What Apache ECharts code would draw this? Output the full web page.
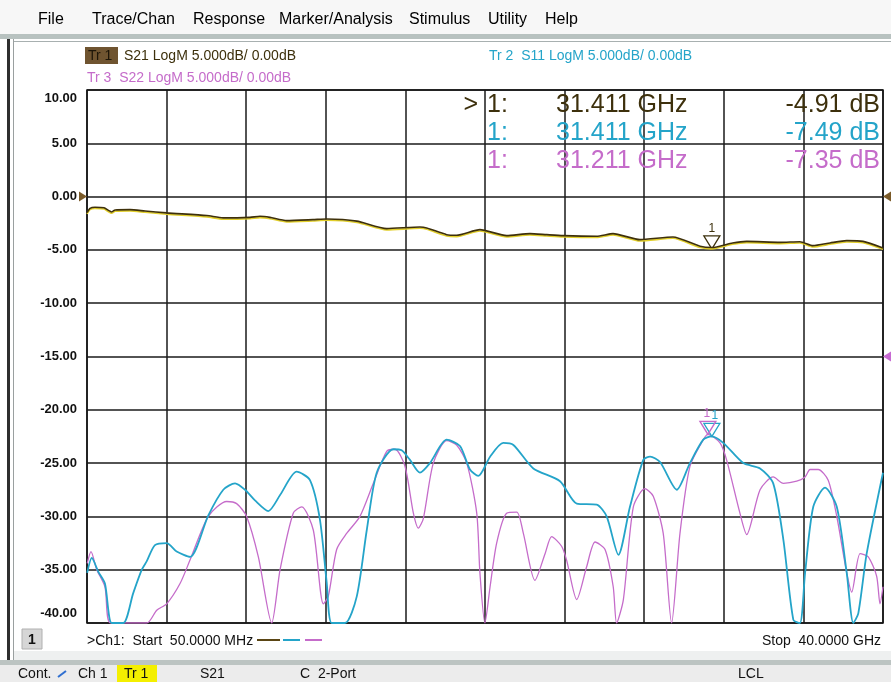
<!DOCTYPE html>
<html><head><meta charset="utf-8">
<script src="https://cdn.jsdelivr.net/npm/echarts@6/dist/echarts.min.js"></script>
<style>html,body{margin:0;padding:0;background:#fff}#c{width:891px;height:682px}</style>
</head><body><div id="c"></div>
<script>
// ---------- data (frequency in GHz, magnitude in dB) ----------
const s21Freq = [0.05,0.2,0.45,0.9,1.29,1.46,2.21,2.96,4.05,6.06,6.88,8.23,8.73,9.23,10.07,11.39,12.08,13.59,15.09,16.76,17.1,18.1,18.6,19.77,21.11,22.28,23.12,23.94,25.63,26.45,27.8,29.46,30.82,31.41,32.45,33.16,34.83,35.83,36.49,37.34,38.18,39.0,40.0];
const s21Val  = [-1.5,-1.1,-1.0,-1.05,-1.44,-1.25,-1.22,-1.35,-1.53,-1.78,-2.0,-1.95,-1.85,-1.95,-2.25,-2.16,-2.1,-2.3,-3.0,-2.85,-2.94,-3.57,-3.63,-3.1,-3.66,-3.47,-3.57,-3.66,-3.72,-3.47,-4.04,-3.79,-4.66,-4.78,-4.35,-4.2,-4.29,-4.23,-4.6,-4.35,-4.13,-4.2,-4.82];

const s11Freq = [0.06,0.29,0.62,0.95,1.29,1.87,2.37,2.80,3.05,3.46,4.05,4.55,5.22,6.14,6.89,7.48,7.98,8.48,9.15,9.74,10.57,11.24,11.74,12.08,12.33,13.0,13.59,14.09,14.59,15.42,15.84,16.26,16.76,17.26,18.1,18.77,19.27,19.69,20.28,20.94,21.45,22.45,23.79,24.63,25.63,26.13,26.72,27.3,27.97,28.31,28.81,29.65,30.31,30.98,31.40,31.98,32.99,33.83,34.49,35.0,35.5,35.83,36.09,36.5,37.09,37.68,38.18,38.51,38.76,39.18,40.0];
const s11Val  = [-35.3,-33.9,-35.2,-36.3,-40,-40,-37.2,-35.0,-34.2,-32.7,-32.5,-33.3,-33.8,-29.9,-27.5,-26.9,-27.5,-28.5,-29.5,-28.0,-25.8,-26.6,-30.3,-36.2,-40,-40,-37.5,-31.3,-25.9,-23.7,-23.8,-24.7,-25.9,-25.0,-22.8,-23.4,-25.6,-26.2,-24.4,-23.1,-23.3,-25.5,-26.7,-28.8,-28.9,-30.0,-33.6,-29.1,-24.7,-24.4,-24.9,-27.5,-25.0,-22.8,-22.5,-23.1,-25.0,-25.5,-26.9,-32.2,-39.7,-40,-35.3,-29.1,-27.3,-29.1,-35.3,-40,-39.1,-33.5,-25.9];

const s22Freq = [0.06,0.25,0.54,0.95,1.24,3.05,3.55,4.05,4.72,5.22,6.14,7.06,7.56,8.06,8.65,9.32,9.74,10.4,10.83,11.41,11.91,12.16,12.58,13.08,13.75,14.42,15.09,15.51,16.01,16.43,16.68,16.93,17.43,18.1,18.6,19.11,19.61,19.77,20.02,20.28,20.61,21.11,21.62,21.95,22.53,23.04,23.37,23.87,24.12,24.63,25.13,25.55,26.05,26.46,26.63,26.97,27.47,28.05,28.47,28.97,29.39,29.81,30.31,30.98,31.21,31.82,32.15,32.82,33.16,33.83,34.49,35.0,35.67,36.09,36.34,36.75,37.25,37.68,38.18,38.43,38.85,39.26,39.68,39.85,40.0];
const s22Val  = [-34.4,-33.3,-35.0,-36.6,-40,-40,-38.8,-38.2,-36.3,-34.1,-30.0,-28.6,-28.8,-30.0,-33.8,-40,-35.0,-29.7,-29.1,-31.3,-38.2,-37.5,-33.1,-31.6,-30.0,-26.9,-23.9,-23.7,-25.3,-29.7,-31.1,-30.2,-25.0,-22.9,-23.3,-25.0,-29.7,-35.3,-40,-36.6,-32.5,-29.7,-29.6,-31.6,-36.0,-33.5,-31.9,-32.8,-34.1,-37.8,-34.7,-32.4,-33.1,-36.6,-40,-37.8,-29.1,-27.4,-28.1,-31.6,-40,-31.6,-25.3,-22.8,-22.3,-23.1,-24.7,-29.7,-31.7,-27.5,-26.3,-26.9,-26.7,-26.3,-25.6,-25.6,-26.6,-30.0,-35.3,-37.1,-33.5,-33.8,-35.6,-38.2,-36.6];

// markers: [S21, S11, S22]
const markerFreq = [31.411, 31.411, 31.211];
const markerTraceVal = [-4.91, -22.5, -22.3];
const markerFreqText = ['31.411 GHz', '31.411 GHz', '31.211 GHz'];
const markerReadout = ['-4.91 dB', '-7.49 dB', '-7.35 dB'];

// reference levels (dB) of the traces
const refLevelS21 = 0;
const refLevelS22 = -15;

// axis
const yMin = -40, yMax = 10, yStep = 5;
const fStart = 0.05, fStop = 40;
const xDivisions = 10;

const traceLabels = ['S21 LogM 5.000dB/ 0.00dB', 'Tr 2  S11 LogM 5.000dB/ 0.00dB', 'Tr 3  S22 LogM 5.000dB/ 0.00dB'];
const menuItems = [['File',38],['Trace/Chan',92],['Response',193],['Marker/Analysis',279],['Stimulus',409],['Utility',488],['Help',545]];

// ---------- styling ----------
const FONT = 'Liberation Sans, Arial, Helvetica, sans-serif';
const C21 = '#3d300c', C11 = '#24a4c9', C22 = '#c56cca';
const zip = (a, b) => a.map((v, i) => [v, b[i]]);

const chart = echarts.init(document.getElementById('c'), null, {renderer: 'canvas'});

function txt(x, y, text, color, size, align, weight) {
  return {type: 'text', x: x, y: y, silent: true, z: 50,
    style: {text: text, fill: color, font: (weight ? weight + ' ' : '') + size + 'px ' + FONT,
      textVerticalAlign: 'middle', textAlign: align || 'left'}};
}

const graphics = [
  // menu bar
  {type: 'rect', shape: {x: 0, y: 0, width: 891, height: 34}, style: {fill: '#f7f7f7'}, z: 1},
  {type: 'rect', shape: {x: 0, y: 34, width: 891, height: 5}, style: {fill: '#b8c2c0'}, z: 1},
  // left frame lines
  {type: 'rect', shape: {x: 7, y: 39, width: 3, height: 622}, style: {fill: '#2e2e2e'}, z: 1},
  {type: 'rect', shape: {x: 13, y: 39, width: 1, height: 622}, style: {fill: '#9aa0a0'}, z: 1},
  {type: 'rect', shape: {x: 14, y: 41, width: 877, height: 1}, style: {fill: '#a8b0b0'}, z: 1},
  // bottom separator + status bar
  {type: 'rect', shape: {x: 14, y: 651, width: 877, height: 9}, style: {fill: '#eef0f0'}, z: 1},
  {type: 'rect', shape: {x: 0, y: 660, width: 891, height: 5}, style: {fill: '#bcc4c2'}, z: 1},
  {type: 'rect', shape: {x: 0, y: 665, width: 891, height: 17}, style: {fill: '#ececec'}, z: 1},
  // Tr 1 box
  {type: 'rect', shape: {x: 85, y: 47, width: 33, height: 17}, style: {fill: '#6f5430'}, z: 40},
  txt(88, 56, 'Tr 1', '#1e1608', 14),
  txt(124, 56, traceLabels[0], C21, 14),
  txt(489, 56, traceLabels[1], C11, 14),
  txt(87, 78, traceLabels[2], C22, 14),
  // marker readout
  txt(478, 105, '>', C21, 25, 'right'),
  txt(487, 105, '1:', C21, 25), txt(556, 105, markerFreqText[0], C21, 25), txt(880, 105, markerReadout[0], C21, 25, 'right'),
  txt(487, 133, '1:', C11, 25), txt(556, 133, markerFreqText[1], C11, 25), txt(880, 133, markerReadout[1], C11, 25, 'right'),
  txt(487, 161, '1:', C22, 25), txt(556, 161, markerFreqText[2], C22, 25), txt(880, 161, markerReadout[2], C22, 25, 'right'),
  // channel bar
  {type: 'rect', shape: {x: 22, y: 629, width: 20, height: 20}, style: {fill: '#d6d6d6', stroke: '#b0b0b0', lineWidth: 1}, z: 40},
  txt(32, 640, '1', '#111', 14, 'center', 'bold'),
  txt(87, 641, '>Ch1:  Start  50.0000 MHz', '#111', 14),
  {type: 'line', shape: {x1: 257, y1: 640, x2: 280, y2: 640}, style: {stroke: '#5a4514', lineWidth: 2}, z: 40},
  {type: 'line', shape: {x1: 283, y1: 640, x2: 300, y2: 640}, style: {stroke: C11, lineWidth: 2}, z: 40},
  {type: 'line', shape: {x1: 305, y1: 640, x2: 322, y2: 640}, style: {stroke: C22, lineWidth: 2}, z: 40},
  txt(881, 641, 'Stop  40.0000 GHz', '#111', 14, 'right'),
  // status bar
  txt(18, 674, 'Cont.', '#111', 14),
  {type: 'line', shape: {x1: 58, y1: 677, x2: 66, y2: 671}, style: {stroke: '#2f6fd0', lineWidth: 2}, z: 40},
  txt(78, 674, 'Ch 1', '#111', 14),
  {type: 'rect', shape: {x: 117, y: 665, width: 40, height: 17}, style: {fill: '#f4ef00'}, z: 40},
  txt(124, 674, 'Tr 1', '#111', 14),
  txt(200, 674, 'S21', '#111', 14),
  txt(300, 674, 'C  2-Port', '#111', 14),
  txt(738, 674, 'LCL', '#111', 14)
];
menuItems.forEach(m => graphics.push(txt(m[1], 20, m[0], '#000', 16)));

const hollowTri = 'path://M0,0L20,0L10,16Z';
function markerPt(f, v, color, labelOffset) {
  return {coord: [f, v], symbol: hollowTri, symbolSize: [16, 13], symbolOffset: [0, '-50%'],
    itemStyle: {color: 'rgba(255,255,255,0)', borderColor: color, borderWidth: 1.3},
    label: {show: true, formatter: '1', position: 'top', distance: 1, color: color, fontSize: 12, fontFamily: FONT, offset: labelOffset || [0, 0]}};
}
function refTri(f, v, color, side) {
  return {coord: [f, v], symbol: 'triangle', symbolRotate: side === 'left' ? -90 : 90, symbolSize: [10, 8],
    symbolOffset: [side === 'left' ? -4 : 4, 0], itemStyle: {color: color}, label: {show: false}};
}

const option = {
  animation: false,
  backgroundColor: '#ffffff',
  graphic: graphics,
  grid: {left: 87, top: 90, width: 796, height: 533, show: true, borderColor: '#151515', borderWidth: 1.5, backgroundColor: 'transparent', z: 2},
  xAxis: [
    {type: 'value', min: fStart, max: fStop, show: false, splitLine: {show: false}},
    {type: 'value', min: 0, max: xDivisions, interval: 1, position: 'bottom',
      axisLine: {show: false}, axisTick: {show: false}, axisLabel: {show: false},
      splitLine: {show: true, lineStyle: {color: '#1a1a1a', width: 1.5}}}
  ],
  yAxis: {
    type: 'value', min: yMin, max: yMax, interval: yStep,
    axisLine: {show: false}, axisTick: {show: false},
    splitLine: {show: true, lineStyle: {color: '#1a1a1a', width: 1.5}},
    axisLabel: {
      margin: 10, color: '#111', fontSize: 13, fontWeight: 'bold', fontFamily: FONT,
      formatter: v => v === yMax ? '{t|' + v.toFixed(2) + '}' : (v === yMin ? '{b|' + v.toFixed(2) + '}' : v.toFixed(2)),
      rich: {
        t: {fontSize: 13, fontWeight: 'bold', fontFamily: FONT, color: '#111', padding: [16, 0, 0, 0]},
        b: {fontSize: 13, fontWeight: 'bold', fontFamily: FONT, color: '#111', padding: [0, 0, 20, 0]}
      }
    }
  },
  series: [
    {name: 'S11', type: 'line', xAxisIndex: 0, data: zip(s11Freq, s11Val), showSymbol: false, smooth: 0.25,
      lineStyle: {color: C11, width: 1.8}, z: 4, silent: true,
      markPoint: {silent: true, data: [markerPt(markerFreq[1], markerTraceVal[1], C11, [3, 0])]}},
    {name: 'S22', type: 'line', xAxisIndex: 0, data: zip(s22Freq, s22Val), showSymbol: false, smooth: 0.25,
      lineStyle: {color: C22, width: 1.3}, z: 3, silent: true,
      markPoint: {silent: true, data: [markerPt(markerFreq[2], markerTraceVal[2], C22, [-1, 0]), refTri(fStop, refLevelS22, '#c76ad2', 'right')]}},
    {name: 'S21', type: 'line', xAxisIndex: 0, data: zip(s21Freq, s21Val), showSymbol: false, smooth: 0.2,
      lineStyle: {color: '#3e300a', width: 1.6, shadowColor: '#e2cf2a', shadowOffsetY: 1.3, shadowBlur: 0}, z: 5, silent: true,
      markPoint: {silent: true, data: [markerPt(markerFreq[0], markerTraceVal[0], C21), refTri(fStart, refLevelS21, '#7a5a28', 'left'), refTri(fStop, refLevelS21, '#7a5a28', 'right')]}}
  ]
};
chart.setOption(option);
</script>
</body></html>
